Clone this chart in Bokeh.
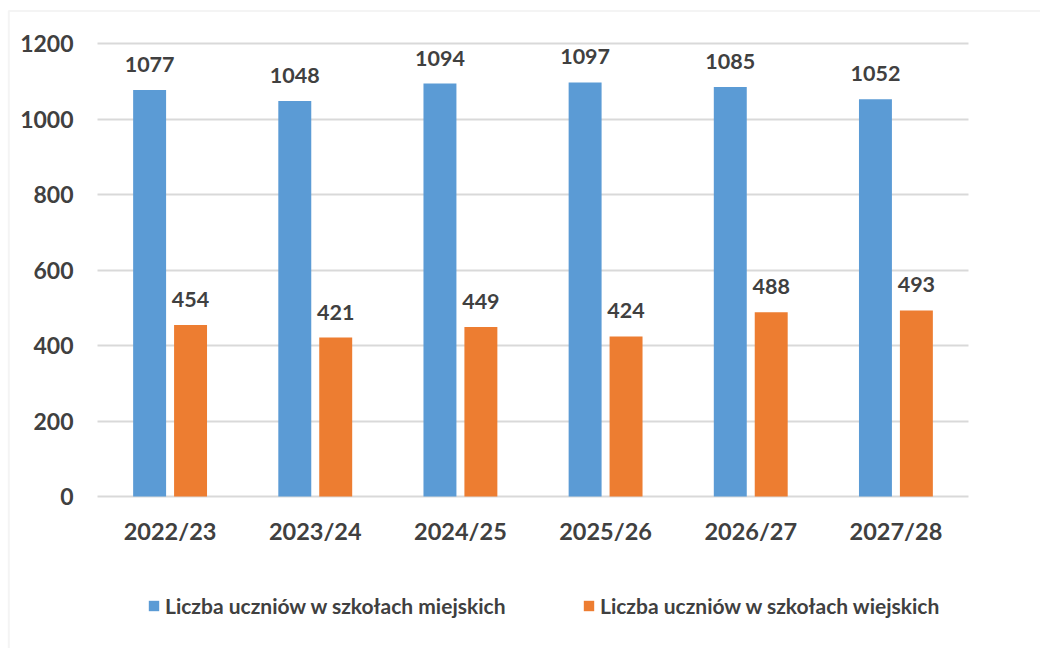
from bokeh.plotting import figure
from bokeh.models import (ColumnDataSource, Range1d, LabelSet, Legend,
                          LegendItem, BoxAnnotation, FixedTicker)
from bokeh.transform import dodge
from bokeh.core.properties import value
from bokeh.embed import file_html
from bokeh.resources import INLINE

years = ["2022/23", "2023/24", "2024/25", "2025/26", "2026/27", "2027/28"]
miejskie = [1077, 1048, 1094, 1097, 1085, 1052]
wiejskie = [454, 421, 449, 424, 488, 493]
series_names = ["Liczba uczniów w szkołach miejskich", "Liczba uczniów w szkołach wiejskich"]
y_ticks = [0, 200, 400, 600, 800, 1000, 1200]

BLUE = "#5B9BD5"
ORANGE = "#ED7D31"
TEXT = "#404040"
GRID = "#D9D9D9"
FONT = "Lato"

W, H = 1040, 648
# desired plot-area placement (pixels) -> data ranges
PA_LEFT, PA_RIGHT, PA_TOP, PA_BOTTOM = 97, 968, 43, 496
n = len(years)
px_per_cat = (PA_RIGHT - PA_LEFT) / n
x_start = -0.5 - PA_LEFT / px_per_cat
x_end = x_start + W / px_per_cat
y_max = y_ticks[-1]
px_per_unit = (PA_BOTTOM - PA_TOP) / y_max
y_start = -(H - PA_BOTTOM) / px_per_unit
y_end = y_max + PA_TOP / px_per_unit

idx = list(range(n))
src = ColumnDataSource(dict(
    idx=idx, m=miejskie, w=wiejskie,
    m_txt=[str(v) for v in miejskie], w_txt=[str(v) for v in wiejskie],
))

p = figure(x_range=Range1d(x_start, x_end), y_range=Range1d(y_start, y_end),
           width=W, height=H, output_backend="svg", toolbar_location=None,
           min_border=0, title=None)
p.outline_line_color = None
p.background_fill_color = "white"
p.border_fill_color = "white"

OFF, BW = 0.141, 0.227
r1 = p.vbar(x=dodge("idx", -OFF), top="m", width=BW, source=src,
            fill_color=BLUE, line_color=None)
r2 = p.vbar(x=dodge("idx", OFF), top="w", width=BW, source=src,
            fill_color=ORANGE, line_color=None)

lab_kw = dict(text_font=value(FONT), text_font_size="21.5px", text_font_style="bold", text_color=TEXT,
              text_align="center", text_baseline="alphabetic", y_offset=18)
p.add_layout(LabelSet(x=dodge("idx", -OFF), y="m", text="m_txt", source=src, **lab_kw))
p.add_layout(LabelSet(x=dodge("idx", OFF), y="w", text="w_txt", source=src, **lab_kw))

p.xgrid.grid_line_color = None
p.ygrid.grid_line_color = GRID
p.ygrid.grid_line_width = 2
p.ygrid.cross_bounds = (-0.5, n - 0.5)
p.ygrid.ticker = FixedTicker(ticks=y_ticks)

p.yaxis.ticker = FixedTicker(ticks=y_ticks)
p.xaxis.ticker = FixedTicker(ticks=idx)
p.xaxis.major_label_overrides = {i: y for i, y in zip(idx, years)}
p.xaxis.fixed_location = 0
p.yaxis.fixed_location = -0.5

for ax in (p.xaxis[0], p.yaxis[0]):
    ax.axis_line_color = None
    ax.major_tick_line_color = None
    ax.minor_tick_line_color = None
    ax.major_tick_out = 0
    ax.major_tick_in = 0
    ax.minor_tick_out = 0
    ax.major_label_text_font = FONT
    ax.major_label_text_font_style = "bold"
    ax.major_label_text_color = TEXT

p.yaxis.major_label_text_font_size = "23px"
p.yaxis.major_label_standoff = 24
p.xaxis.major_label_text_font_size = "23.5px"
p.xaxis.major_label_standoff = 20

leg_kw = dict(padding=0, margin=0, border_line_color=None, background_fill_alpha=0,
              label_standoff=5, glyph_width=13, glyph_height=13, label_height=13,
              label_text_font=FONT, label_text_font_size="21px", label_text_font_style="bold",
              label_text_color=TEXT)
leg1 = Legend(items=[LegendItem(label=series_names[0], renderers=[r1])], location=(147, 30), **leg_kw)
leg2 = Legend(items=[LegendItem(label=series_names[1], renderers=[r2])], location=(582, 30), **leg_kw)
p.add_layout(leg1)
p.add_layout(leg2)

p.add_layout(BoxAnnotation(left=8.3, right=W + 100, top=H - 10.5, bottom=-100,
                           left_units="screen", right_units="screen",
                           top_units="screen", bottom_units="screen",
                           fill_alpha=0, line_color=GRID, line_width=2))

open("out.html", "w").write(file_html(p, INLINE))
